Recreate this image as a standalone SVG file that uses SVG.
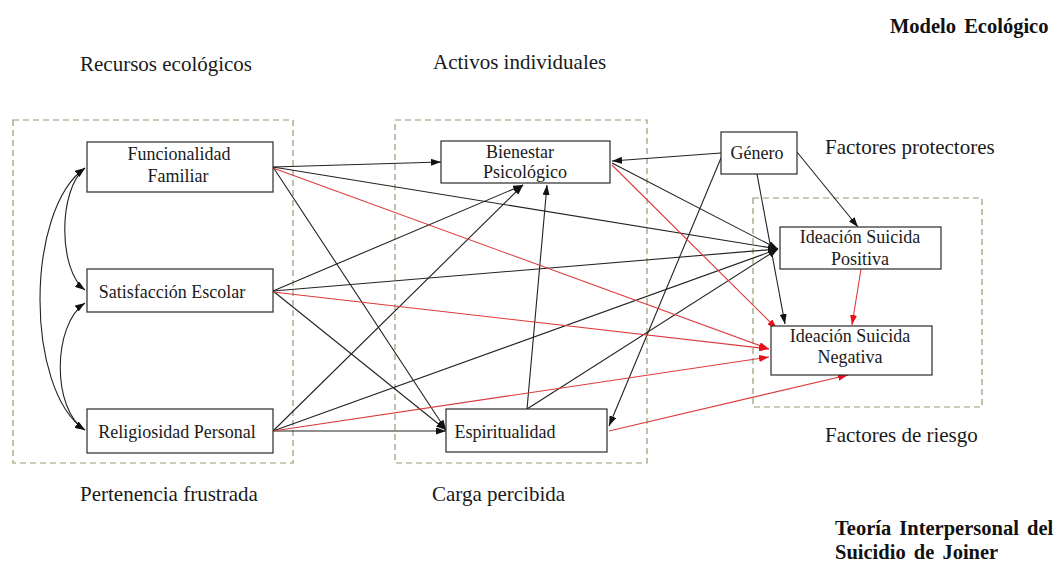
<svg xmlns="http://www.w3.org/2000/svg" width="1056" height="570" viewBox="0 0 1056 570">
  <style>
    .bg { fill: #ffffff; }
    .zone { fill: none; stroke: #939a6e; stroke-width: 1.2; stroke-dasharray: 6 4; }
    .box { fill: #ffffff; stroke: #2b2b2b; stroke-width: 1.2; }
    .lbl { font-family: "Liberation Serif", "Times New Roman", serif; font-size: 18px; fill: #1a1a1a; text-anchor: middle; }
    .head { font-family: "Liberation Serif", "Times New Roman", serif; font-size: 21px; fill: #1a1a1a; }
    .title { font-family: "Liberation Serif", "Times New Roman", serif; font-size: 20.5px; font-weight: bold; fill: #111111; word-spacing: 3px; }
    .blk { fill: none; stroke: #222222; stroke-width: 1.1; marker-end: url(#ahB); }
    .red { fill: none; stroke: #dc3a3a; stroke-width: 1.1; marker-end: url(#ahR); }
    .dbl { fill: none; stroke: #222222; stroke-width: 1.1; marker-start: url(#ahB); marker-end: url(#ahB); }
  </style>
  <defs>
    <marker id="ahB" viewBox="0 0 10 7" refX="10" refY="3.5" markerWidth="10" markerHeight="7" markerUnits="userSpaceOnUse" orient="auto-start-reverse">
      <path d="M0,0 L10,3.5 L0,7 z" fill="#111111"/>
    </marker>
    <marker id="ahR" viewBox="0 0 10 7" refX="10" refY="3.5" markerWidth="10" markerHeight="7" markerUnits="userSpaceOnUse" orient="auto-start-reverse">
      <path d="M0,0 L10,3.5 L0,7 z" fill="#e8101a"/>
    </marker>
  </defs>

  <rect class="bg" x="0" y="0" width="1056" height="570"/>

  <!-- titles and zone captions -->
  <g id="captions">
    <text class="title" x="890" y="33">Modelo Ecológico</text>
    <text class="head" x="80" y="71">Recursos ecológicos</text>
    <text class="head" x="433" y="69">Activos individuales</text>
    <text class="head" x="825" y="154">Factores protectores</text>
    <text class="head" x="825" y="442">Factores de riesgo</text>
    <text class="head" x="80" y="501">Pertenencia frustrada</text>
    <text class="head" x="432" y="501">Carga percibida</text>
    <text class="title" x="835" y="535">Teoría Interpersonal del</text>
    <text class="title" x="835" y="559">Suicidio de Joiner</text>
  </g>

  <!-- dashed grouping zones -->
  <g id="zones">
    <rect class="zone" x="13" y="120" width="280" height="343"/>
    <rect class="zone" x="395" y="120" width="252" height="343"/>
    <rect class="zone" x="753" y="198" width="229" height="209"/>
  </g>

  <!-- connectors -->
  <g id="connectors">
    <!-- correlations among ecological resources -->
    <path class="dbl" d="M85,168 C58,190 58,270 85,290"/>
    <path class="dbl" d="M85,303 C52,325 52,410 85,430"/>
    <path class="dbl" d="M85,168 C25,210 25,390 85,430"/>

    <!-- black paths -->
    <line class="blk" x1="273" y1="167" x2="441" y2="162"/>
    <line class="blk" x1="273" y1="167" x2="778" y2="249"/>
    <line class="blk" x1="273" y1="167" x2="446" y2="430"/>
    <line class="blk" x1="273" y1="291" x2="523" y2="185"/>
    <line class="blk" x1="273" y1="291" x2="778" y2="249"/>
    <line class="blk" x1="273" y1="291" x2="446" y2="430"/>
    <line class="blk" x1="273" y1="431" x2="523" y2="185"/>
    <line class="blk" x1="273" y1="431" x2="778" y2="249"/>
    <line class="blk" x1="273" y1="431" x2="446" y2="431"/>
    <line class="blk" x1="527" y1="409" x2="547" y2="185"/>
    <line class="blk" x1="527" y1="409" x2="778" y2="249"/>
    <line class="blk" x1="612" y1="163" x2="778" y2="249"/>
    <line class="blk" x1="721" y1="153" x2="612" y2="161"/>
    <line class="blk" x1="721" y1="158" x2="609" y2="426"/>
    <line class="blk" x1="797" y1="152" x2="858" y2="227"/>
    <line class="blk" x1="757" y1="174" x2="785" y2="324"/>

    <!-- red paths -->
    <line class="red" x1="273" y1="168" x2="769" y2="349"/>
    <line class="red" x1="273" y1="292" x2="769" y2="349"/>
    <line class="red" x1="273" y1="431" x2="769" y2="357"/>
    <line class="red" x1="612" y1="165" x2="777" y2="329"/>
    <line class="red" x1="609" y1="431" x2="848" y2="375"/>
    <line class="red" x1="861" y1="269" x2="852" y2="325"/>
  </g>

  <!-- nodes -->
  <g id="funcionalidad">
    <rect class="box" x="87" y="142" width="186" height="50"/>
    <text class="lbl" x="179" y="160">Funcionalidad</text>
    <text class="lbl" x="178" y="182">Familiar</text>
  </g>
  <g id="satisfaccion">
    <rect class="box" x="87" y="269" width="186" height="43"/>
    <text class="lbl" x="172" y="298">Satisfacción Escolar</text>
  </g>
  <g id="religiosidad">
    <rect class="box" x="87" y="409" width="186" height="44"/>
    <text class="lbl" x="177" y="438">Religiosidad Personal</text>
  </g>
  <g id="bienestar">
    <rect class="box" x="441" y="141" width="169" height="42"/>
    <text class="lbl" x="520" y="158">Bienestar</text>
    <text class="lbl" x="525" y="178">Psicológico</text>
  </g>
  <g id="espiritualidad">
    <rect class="box" x="446" y="409" width="161" height="43"/>
    <text class="lbl" x="505" y="438">Espiritualidad</text>
  </g>
  <g id="genero">
    <rect class="box" x="721" y="132" width="76" height="42"/>
    <text class="lbl" x="757" y="159">Género</text>
  </g>
  <g id="ideacion-positiva">
    <rect class="box" x="780" y="227" width="161" height="42"/>
    <text class="lbl" x="860" y="243">Ideación Suicida</text>
    <text class="lbl" x="860" y="265">Positiva</text>
  </g>
  <g id="ideacion-negativa">
    <rect class="box" x="771" y="326" width="161" height="49"/>
    <text class="lbl" x="850" y="342">Ideación Suicida</text>
    <text class="lbl" x="850" y="363">Negativa</text>
  </g>
</svg>
